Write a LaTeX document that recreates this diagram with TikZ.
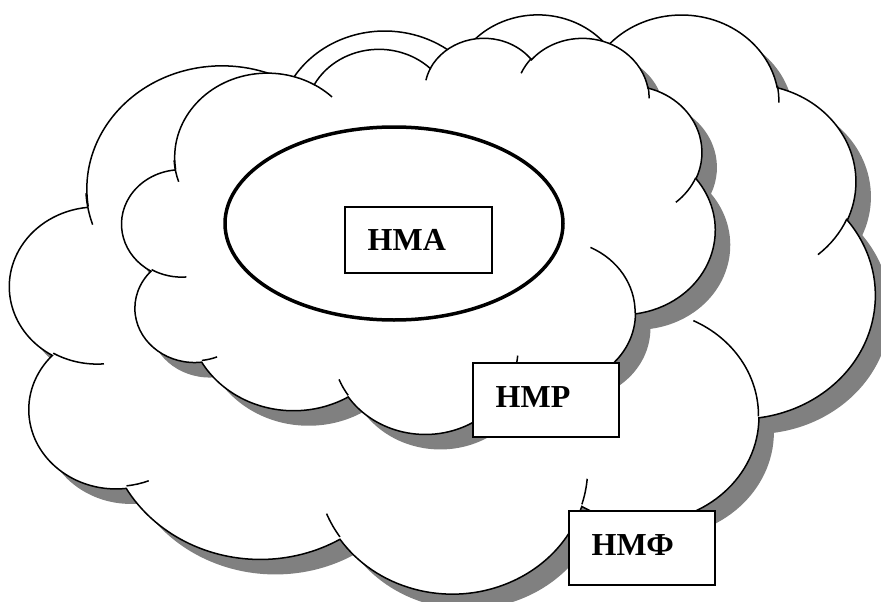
\documentclass[tikz,border=0pt]{standalone}
\usepackage{fontspec}
\setmainfont{Liberation Serif}
\usetikzlibrary{shapes.geometric}

\definecolor{shadowgray}{HTML}{808080}

% Elliptic arc given like a DrawingML arcTo: radii, start angle and sweep
% (visual angles, in degrees); converted to the parametric angles of TikZ.
\newcommand\cldarc[4]{%
  arc[x radius=#1, y radius=#2,
      start angle={atan2((#1)*sin(#3),(#2)*cos(#3))},
      delta angle={mod(atan2((#1)*sin((#3)+(#4)),(#2)*cos((#3)+(#4)))-atan2((#1)*sin(#3),(#2)*cos(#3))+720,360)}]}

% Cloud outline in a 43.2 x 43.2 frame (y downwards)
\newcommand\cloudoutline{%
  (3.9,14.37)
  \cldarc{6.753}{9.19}{-190.4875}{123.7805}
  \cldarc{5.333}{7.267}{-144.1024}{89.9452}
  \cldarc{4.365}{5.945}{-145.8079}{99.7230}
  \cldarc{4.857}{6.595}{-130.9861}{117.2417}
  \cldarc{5.333}{7.273}{-78.7089}{109.0269}
  \cldarc{6.775}{9.22}{-46.2673}{130.2690}
  \cldarc{5.785}{7.867}{0.6250}{114.0333}
  \cldarc{6.752}{9.215}{22.4516}{115.1726}
  \cldarc{7.72}{10.543}{66.2426}{75.7110}
  \cldarc{4.36}{5.918}{-274.9421}{146.7356}
  \cldarc{4.345}{5.945}{-246.8285}{152.5189}
  -- cycle}

% The short inner strokes between the lobes
\newcommand\cloudcreases{%
  (4.693,26.177) \cldarc{4.345}{5.945}{86.742}{26.4295}
  (6.928,34.899) \cldarc{4.36}{5.918}{73.6105}{11.4475}
  (16.478,39.09) \cldarc{6.752}{9.215}{137.6242}{14.0811}
  (28.827,34.751) \cldarc{6.752}{9.215}{6.4533}{15.9984}
  (34.129,22.954) \cldarc{5.785}{7.867}{-70.2924}{70.9174}
  (41.798,15.354) \cldarc{5.333}{7.273}{30.318}{27.7515}
  (38.324,5.426) \cldarc{4.857}{6.595}{-13.7443}{14.8589}
  (29.078,3.952) \cldarc{4.857}{6.595}{-149.1815}{18.1954}
  (22.141,4.72) \cldarc{4.365}{5.945}{-163.4943}{17.6864}
  (14.0,5.192) \cldarc{6.753}{9.19}{-66.707}{12.3194}
  (4.127,15.789) \cldarc{6.753}{9.19}{155.6472}{19.5555}}

\tikzset{
  cloudshape/.style={fill=white, draw=black, line width=1.5pt},
  cloudshadow/.style={fill=shadowgray},
  crease/.style={draw=black, line width=1.5pt},
  box/.style={draw=black, fill=white, line width=2.5pt, rectangle,
    minimum width=146pt, minimum height=72pt, inner sep=0pt},
  lbl/.style={font=\bfseries\fontsize{32}{32}\selectfont, inner sep=0pt, anchor=base west},
}

\begin{document}
\begin{tikzpicture}[x=1pt, y=1pt, yscale=-1]
\useasboundingbox (0,0) rectangle (881,602);
\clip (0,0) rectangle (881,602);

% outer cloud (НМФ)
\begin{scope}[shift={(25,28)}, xscale=20.023, yscale=13.403]
  \path[cloudshadow] \cloudoutline;
\end{scope}
\begin{scope}[shift={(10,13)}, xscale=20.023, yscale=13.403]
  \path[cloudshape] \cloudoutline;
  \path[crease] \cloudcreases;
\end{scope}

% inner cloud (НМР)
\begin{scope}[shift={(137,52)}, xscale=13.727, yscale=9.167]
  \path[cloudshadow] \cloudoutline;
\end{scope}
\begin{scope}[shift={(122,37)}, xscale=13.727, yscale=9.167]
  \path[cloudshape] \cloudoutline;
  \path[crease] \cloudcreases;
\end{scope}

% core ellipse
\node[ellipse, draw=black, fill=white, line width=3.5pt, inner sep=0pt,
      minimum width=338pt, minimum height=193pt] (core) at (394,223.5) {};

% labelled boxes
\node[box, minimum height=66pt, minimum width=147pt] (hma) at (418.5,240) {};
\node[lbl] (hmaT) at (367.5,250) {НМА};

\node[box, minimum height=74pt] (hmp) at (546,400) {};
\node[lbl] (hmpT) at (495.5,407) {НМР};

\node[box, minimum height=74pt] (hmf) at (642,548) {};
\node[lbl] (hmfT) at (591.5,555) {НМФ};
\end{tikzpicture}
\end{document}
